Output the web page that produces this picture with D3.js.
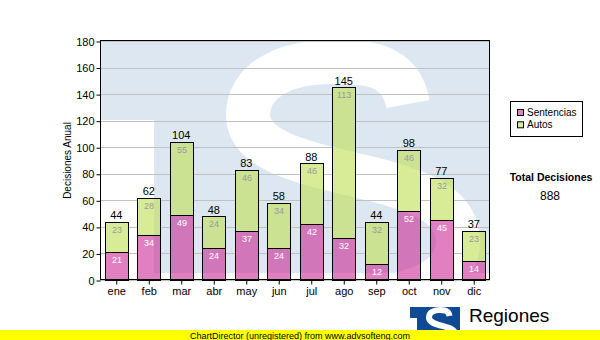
<!DOCTYPE html>
<html>
<head>
<meta charset="utf-8">
<script src="https://cdn.jsdelivr.net/npm/d3@7"></script>
<style>
  html, body { margin: 0; padding: 0; background: #ffffff; }
  svg { display: block; font-family: "Liberation Sans", Arial, sans-serif; }
</style>
</head>
<body>
<svg id="chart" width="600" height="340"></svg>
<script>
// Monthly decisions, split by type
const months = ["ene", "feb", "mar", "abr", "may", "jun", "jul", "ago", "sep", "oct", "nov", "dic"];
const sentencias = [21, 34, 49, 24, 37, 24, 42, 32, 12, 52, 45, 14];
const autos = [23, 28, 55, 24, 46, 34, 46, 113, 32, 46, 32, 23];
const seriesNames = ["Sentencias", "Autos"];
const yTicks = [0, 20, 40, 60, 80, 100, 120, 140, 160, 180];

const colors = { Sentencias: "#cb2b96", Autos: "#bedf53" };
const legendColors = { Sentencias: "#e080c0", Autos: "#d8ec98" };
const barOpacity = 0.6;
const wmBlue = "#dde7f1";
const logoBlue = "#0f4b95";

const svg = d3.select("#chart");
const plot = { left: 100, right: 490, top: 41, bottom: 280 };

const rows = months.map((m, i) => ({ month: m, Sentencias: sentencias[i], Autos: autos[i] }));
const stacked = d3.stack().keys(seriesNames)(rows);
const totals = rows.map(r => r.Sentencias + r.Autos);

const x = d3.scaleBand().domain(months).range([plot.left, plot.right]).paddingInner(0.29).paddingOuter(0.145);
const y = d3.scaleLinear().domain([0, 180]).range([plot.bottom, plot.top]);

// S-shaped stroke of the logo, in a 390x232 design box
function sPath(ox, oy, sx, sy) {
  const p = (a, b) => `${ox + (a - 100) * sx},${oy + (b - 41) * sy}`;
  return `M${p(408, 104)} C${p(400, 62)} ${p(365, 62)} ${p(332, 62)}` +
         ` C${p(282, 62)} ${p(248, 82)} ${p(248, 115)}` +
         ` C${p(248, 150)} ${p(300, 162)} ${p(360, 176)}` +
         ` C${p(420, 190)} ${p(458, 205)} ${p(458, 242)}` +
         ` C${p(458, 285)} ${p(400, 302)} ${p(330, 300)}`;
}

const defs = svg.append("defs");
defs.append("clipPath").attr("id", "plotClip")
  .append("rect").attr("x", plot.left).attr("y", plot.top)
  .attr("width", plot.right - plot.left).attr("height", plot.bottom - plot.top);

// Watermark background of the plot area
const wm = defs.append("g").attr("id", "wm");
wm.append("rect").attr("x", plot.left).attr("y", plot.top)
  .attr("width", plot.right - plot.left).attr("height", plot.bottom - plot.top).attr("fill", "#ffffff");
wm.append("rect").attr("x", plot.left).attr("y", plot.top)
  .attr("width", plot.right - plot.left).attr("height", 79).attr("fill", wmBlue);
wm.append("rect").attr("x", 154).attr("y", plot.top)
  .attr("width", plot.right - 154).attr("height", 232).attr("fill", wmBlue);
wm.append("path").attr("d", sPath(100, 41, 1, 1))
  .attr("fill", "none").attr("stroke", "#ffffff").attr("stroke-width", 44);

svg.append("use").attr("href", "#wm").attr("clip-path", "url(#plotClip)");

// Horizontal gridlines
svg.append("g").selectAll("line").data(yTicks).join("line")
  .attr("x1", plot.left).attr("x2", plot.right)
  .attr("y1", d => Math.round(y(d)) + 0.5).attr("y2", d => Math.round(y(d)) + 0.5)
  .attr("stroke", "#c0c0c0").attr("stroke-width", 1);

// Bar geometry, snapped to pixels
const segs = [];
stacked.forEach(layer => {
  layer.forEach((d, i) => {
    const x0 = Math.round(x(months[i])) + 0.5;
    const x1 = Math.round(x(months[i]) + x.bandwidth()) + 0.5;
    const yt = Math.round(y(d[1])) + 0.5;
    const yb = Math.round(y(d[0])) + 0.5;
    segs.push({ key: layer.key, value: d[1] - d[0], x0, x1, yt, yb, i });
  });
});

// Background copy beneath the bars so gridlines do not show through them
const barClip = defs.append("clipPath").attr("id", "barClip");
barClip.selectAll("rect").data(segs).join("rect")
  .attr("x", d => d.x0).attr("y", d => d.yt)
  .attr("width", d => d.x1 - d.x0).attr("height", d => d.yb - d.yt);
svg.append("g").attr("clip-path", "url(#barClip)")
  .append("use").attr("href", "#wm");

svg.append("g").selectAll("rect").data(segs).join("rect")
  .attr("x", d => d.x0).attr("y", d => d.yt)
  .attr("width", d => d.x1 - d.x0).attr("height", d => d.yb - d.yt)
  .attr("fill", d => colors[d.key]).attr("fill-opacity", barOpacity)
  .attr("stroke", "#000000").attr("stroke-width", 1);

// Segment value labels
svg.append("g").selectAll("text").data(segs).join("text")
  .attr("x", d => (d.x0 + d.x1) / 2).attr("y", d => d.yt + 10.5)
  .attr("text-anchor", "middle").attr("font-size", 9)
  .attr("fill", d => d.key === "Sentencias" ? "#ffffff" : "#9a9a9a")
  .text(d => d.value);

// Stack totals
svg.append("g").selectAll("text").data(totals).join("text")
  .attr("x", (d, i) => x(months[i]) + x.bandwidth() / 2)
  .attr("y", d => y(d) - 2.5)
  .attr("text-anchor", "middle").attr("font-size", 11).attr("fill", "#000000")
  .text(d => d);

// Plot border
svg.append("rect").attr("x", plot.left + 0.5).attr("y", plot.top - 0.5)
  .attr("width", plot.right - plot.left - 1).attr("height", plot.bottom - plot.top)
  .attr("fill", "none").attr("stroke", "#000000");

// Axes
const yAxis = svg.append("g").attr("transform", `translate(${plot.left + 0.5},0.5)`)
  .call(d3.axisLeft(y).tickValues(yTicks).tickSize(4).tickPadding(2));
yAxis.select(".domain").remove();
yAxis.selectAll("text").attr("font-size", 11).attr("fill", "#000000").attr("font-family", "Liberation Sans, Arial, sans-serif");

const xAxis = svg.append("g").attr("transform", `translate(0.5,${plot.bottom + 0.5})`)
  .call(d3.axisBottom(x).tickSize(4).tickPadding(3));
xAxis.select(".domain").remove();
xAxis.selectAll("text").attr("font-size", 11).attr("fill", "#000000").attr("font-family", "Liberation Sans, Arial, sans-serif");

svg.append("text")
  .attr("transform", `translate(71,${(plot.top + plot.bottom) / 2}) rotate(-90)`)
  .attr("text-anchor", "middle").attr("font-size", 10).attr("fill", "#000000")
  .text("Decisiones Anual");

// Legend
const legend = svg.append("g");
legend.append("rect").attr("x", 510.5).attr("y", 101.5).attr("width", 72).attr("height", 35)
  .attr("fill", "#ffffff").attr("stroke", "#000000");
seriesNames.forEach((name, k) => {
  legend.append("rect").attr("x", 517.5).attr("y", 109.5 + k * 12.3).attr("width", 6).attr("height", 6)
    .attr("fill", legendColors[name]).attr("stroke", "#000000");
  legend.append("text").attr("x", 527).attr("y", 116 + k * 12.3)
    .attr("font-size", 10).attr("fill", "#000000").text(name);
});

svg.append("text").attr("x", 551).attr("y", 181).attr("text-anchor", "middle")
  .attr("font-size", 10.5).attr("font-weight", "bold").attr("fill", "#000000")
  .text("Total Decisiones");
svg.append("text").attr("x", 550).attr("y", 200).attr("text-anchor", "middle")
  .attr("font-size", 12).attr("fill", "#000000")
  .text(d3.sum(totals));

// Logo
const logo = svg.append("g");
logo.append("rect").attr("x", 410).attr("y", 307).attr("width", 50).attr("height", 26).attr("fill", logoBlue);
logo.append("rect").attr("x", 410).attr("y", 318).attr("width", 7).attr("height", 15).attr("fill", "#ffffff");
logo.append("path").attr("d", sPath(410, 307, 50 / 390, 33 / 232))
  .attr("fill", "none").attr("stroke", "#ffffff").attr("stroke-width", 6);
svg.append("text").attr("x", 469).attr("y", 322).attr("font-size", 19).attr("fill", "#000000").text("Regiones");

// Footer banner
svg.append("rect").attr("x", 0).attr("y", 330).attr("width", 600).attr("height", 10).attr("fill", "#ffff00");
svg.append("text").attr("x", 300).attr("y", 338.5).attr("text-anchor", "middle")
  .attr("font-size", 9).attr("fill", "#000000")
  .text("ChartDirector (unregistered) from www.advsofteng.com");
</script>
</body>
</html>
